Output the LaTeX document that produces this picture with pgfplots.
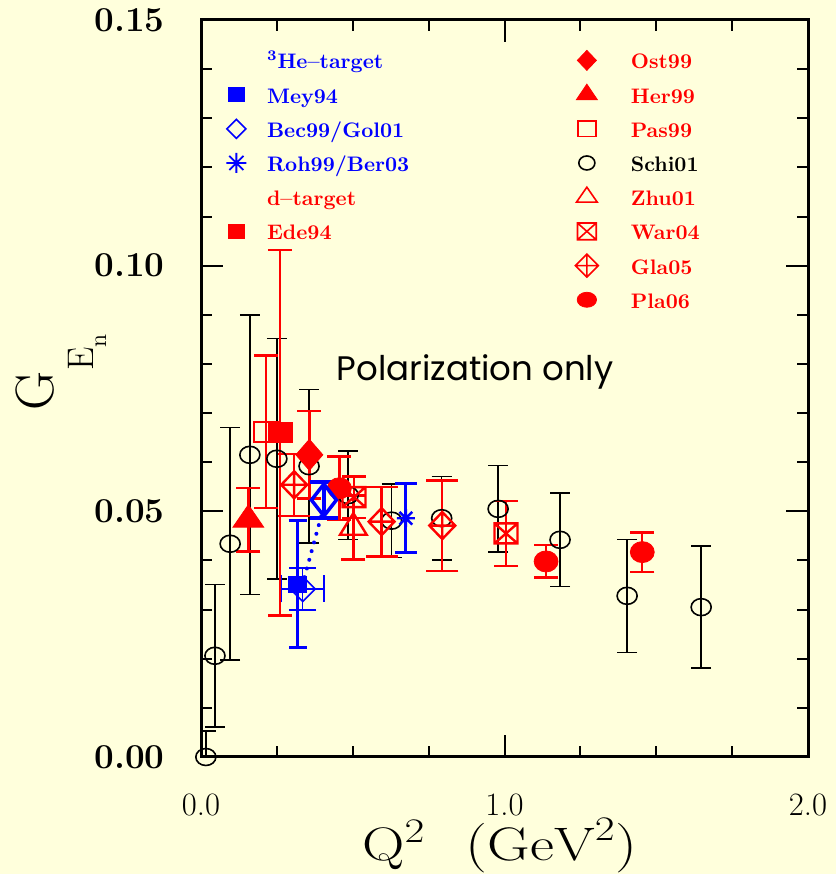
\documentclass[border=0pt]{standalone}
\usepackage{fontspec}
\usepackage{graphicx}
\usepackage{pgfplots}
\usepackage{pgfplotstable}
\pgfplotsset{compat=1.18}

\newfontfamily\notefont{Poppins}

\definecolor{paper}{HTML}{FFFFDC}
\definecolor{gred}{HTML}{FF0000}
\definecolor{gblue}{HTML}{0000FF}

% ---- plot marks -------------------------------------------------------
\pgfdeclareplotmark{rhomb}{%
  \pgfpathmoveto{\pgfqpoint{0pt}{\pgfplotmarksize}}%
  \pgfpathlineto{\pgfqpoint{\pgfplotmarksize}{0pt}}%
  \pgfpathlineto{\pgfqpoint{0pt}{-\pgfplotmarksize}}%
  \pgfpathlineto{\pgfqpoint{-\pgfplotmarksize}{0pt}}%
  \pgfpathclose\pgfusepathqstroke}
\pgfdeclareplotmark{rhomb*}{%
  \pgfpathmoveto{\pgfqpoint{0pt}{\pgfplotmarksize}}%
  \pgfpathlineto{\pgfqpoint{\pgfplotmarksize}{0pt}}%
  \pgfpathlineto{\pgfqpoint{0pt}{-\pgfplotmarksize}}%
  \pgfpathlineto{\pgfqpoint{-\pgfplotmarksize}{0pt}}%
  \pgfpathclose\pgfusepathqfillstroke}
\pgfdeclareplotmark{rhombplus}{%
  \pgfpathmoveto{\pgfqpoint{0pt}{\pgfplotmarksize}}%
  \pgfpathlineto{\pgfqpoint{\pgfplotmarksize}{0pt}}%
  \pgfpathlineto{\pgfqpoint{0pt}{-\pgfplotmarksize}}%
  \pgfpathlineto{\pgfqpoint{-\pgfplotmarksize}{0pt}}%
  \pgfpathclose
  \pgfpathmoveto{\pgfqpoint{0pt}{\pgfplotmarksize}}%
  \pgfpathlineto{\pgfqpoint{0pt}{-\pgfplotmarksize}}%
  \pgfpathmoveto{\pgfqpoint{-\pgfplotmarksize}{0pt}}%
  \pgfpathlineto{\pgfqpoint{\pgfplotmarksize}{0pt}}%
  \pgfusepathqstroke}
\pgfdeclareplotmark{squarex}{%
  \pgfpathrectangle{\pgfqpoint{-\pgfplotmarksize}{-\pgfplotmarksize}}%
                   {\pgfqpoint{2\pgfplotmarksize}{2\pgfplotmarksize}}%
  \pgfpathmoveto{\pgfqpoint{-\pgfplotmarksize}{-\pgfplotmarksize}}%
  \pgfpathlineto{\pgfqpoint{\pgfplotmarksize}{\pgfplotmarksize}}%
  \pgfpathmoveto{\pgfqpoint{-\pgfplotmarksize}{\pgfplotmarksize}}%
  \pgfpathlineto{\pgfqpoint{\pgfplotmarksize}{-\pgfplotmarksize}}%
  \pgfusepathqstroke}
\pgfdeclareplotmark{tri}{%
  \pgfpathmoveto{\pgfqpoint{0pt}{\pgfplotmarksize}}%
  \pgfpathlineto{\pgfqpoint{0.866\pgfplotmarksize}{-0.5\pgfplotmarksize}}%
  \pgfpathlineto{\pgfqpoint{-0.866\pgfplotmarksize}{-0.5\pgfplotmarksize}}%
  \pgfpathclose\pgfusepathqstroke}
\pgfdeclareplotmark{tri*}{%
  \pgfpathmoveto{\pgfqpoint{0pt}{\pgfplotmarksize}}%
  \pgfpathlineto{\pgfqpoint{0.866\pgfplotmarksize}{-0.5\pgfplotmarksize}}%
  \pgfpathlineto{\pgfqpoint{-0.866\pgfplotmarksize}{-0.5\pgfplotmarksize}}%
  \pgfpathclose\pgfusepathqfillstroke}
\pgfdeclareplotmark{star8}{%
  \pgfpathmoveto{\pgfqpoint{0pt}{\pgfplotmarksize}}%
  \pgfpathlineto{\pgfqpoint{0pt}{-\pgfplotmarksize}}%
  \pgfpathmoveto{\pgfqpoint{-\pgfplotmarksize}{0pt}}%
  \pgfpathlineto{\pgfqpoint{\pgfplotmarksize}{0pt}}%
  \pgfpathmoveto{\pgfqpoint{-0.707\pgfplotmarksize}{-0.707\pgfplotmarksize}}%
  \pgfpathlineto{\pgfqpoint{0.707\pgfplotmarksize}{0.707\pgfplotmarksize}}%
  \pgfpathmoveto{\pgfqpoint{-0.707\pgfplotmarksize}{0.707\pgfplotmarksize}}%
  \pgfpathlineto{\pgfqpoint{0.707\pgfplotmarksize}{-0.707\pgfplotmarksize}}%
  \pgfusepathqstroke}

% ---- data: Q2 [GeV^2], G_En, error -------------------------------------
\pgfplotstableread{
q     g      e
0.016 0.0000 0.0053
0.046 0.0206 0.0145
0.096 0.0434 0.0237
0.161 0.0615 0.0284
0.250 0.0607 0.0245
0.356 0.0592 0.0156
0.485 0.0533 0.0090
0.628 0.0481 0.0075
0.793 0.0486 0.0085
0.979 0.0505 0.0088
1.183 0.0442 0.0095
1.404 0.0328 0.0115
1.648 0.0305 0.0124
}\schi
\pgfplotstableread{
q     g      e
0.318 0.0352 0.0130
}\mey
\pgfplotstableread{
q     g      eq    e
0.335 0.0342 0.070 0.0043
}\bec
\pgfplotstableread{
q     g      e
0.405 0.0523 0.0037
}\gol
\pgfplotstableread{
q     g      e
0.675 0.0486 0.0070
}\roh
\pgfplotstableread{
q     g      e
0.260 0.0660 0.0372
}\ede
\pgfplotstableread{
q     g      e
0.357 0.0615 0.0089
}\ost
\pgfplotstableread{
q     g      e
0.156 0.0483 0.0065
}\her
\pgfplotstableread{
q     g      e
0.215 0.0662 0.0155
}\pas
\pgfplotstableread{
q     g      e
0.502 0.0467 0.0065
}\zhu
\pgfplotstableread{
q     g      e
0.504 0.0529 0.0042
1.005 0.0455 0.0066
}\war
\pgfplotstableread{
q     g      e
0.307 0.0554 0.0063
0.595 0.0479 0.0071
0.795 0.0471 0.0092
}\gla
\pgfplotstableread{
q     g      e
0.456 0.0547 0.0065
1.137 0.0398 0.0033
1.454 0.0417 0.0040
}\pla

\pgfplotsset{
  frame/.style={at={(100.5bp,58.5bp)}, anchor=south west,
    width=303.5bp, height=368.5bp, scale only axis,
    xmin=0, xmax=2, ymin=0, ymax=0.15},
  ebar/.style n args={3}{%
    error bars/y dir=both, error bars/y explicit,
    error bars/error bar style={#1, line width=#2},
    error bars/error mark options={#1, rotate=90, line width=#2, mark size=#3}},
  keylist/.style={hide axis,
    legend cell align=left,
    legend image code/.code={%
      \path[draw=none, fill=none] (-6.5bp,-6.5bp) rectangle (6.5bp,6.5bp);
      \draw[##1] plot coordinates {(0bp,0bp)};},
    legend style={draw=none, fill=none, inner sep=0pt, row sep=4.1bp,
      nodes={inner sep=0pt},
      font=\fontsize{10.5bp}{12bp}\selectfont\bfseries, anchor=north west}},
  blankkey/.style={legend image code/.code={%
      \path[draw=none, fill=none] (-6.5bp,-6.5bp) rectangle (6.5bp,6.5bp);}},
}
\newcommand\lstrut{\rule[-3bp]{0pt}{13bp}}

\begin{document}
\begin{tikzpicture}
\path[use as bounding box, fill=paper] (0,0) rectangle (418bp,437bp);

\begin{axis}[frame,
  axis line style={line width=1.5bp},
  tick style={black, line width=1bp},
  tick align=inside,
  major tick length=11bp, minor tick length=5.5bp,
  xtick={0,1,2}, xticklabels={0.0,1.0,2.0}, minor x tick num=3,
  ytick={0,0.05,0.1,0.15}, yticklabels={0.00,0.05,0.10,0.15}, minor y tick num=4,
  xticklabel style={font=\fontsize{16.3bp}{20bp}\selectfont, inner sep=0pt,
    anchor=north, yshift=-18.5bp},
  yticklabel style={font=\fontsize{17.5bp}{20bp}\selectfont\bfseries, inner sep=0pt,
    anchor=east, xshift=-18bp},
  xlabel={\scalebox{1.25}[1]{$\mathrm{Q}^{2}\hspace{16bp}(\mathrm{GeV}^{2})$}},
  xlabel style={font=\fontsize{23.5bp}{28bp}\selectfont, inner sep=0pt,
    at={(axis description cs:0.4926,-0.1398)}, anchor=base},
  ylabel={G\raisebox{-20bp}{\fontsize{18.5bp}{22bp}\selectfont E\raisebox{-6.5bp}{\fontsize{12bp}{14bp}\selectfont n}}},
  ylabel style={font=\fontsize{27bp}{32bp}\selectfont, inner sep=0pt,
    at={(axis description cs:-0.3064,0.522)}, anchor=north},
]
% Schiavilla-Sick analysis (black open circles)
\addplot[black, only marks, mark=o, mark size=4.25bp,
  mark options={xscale=1.18, line width=0.8bp}, ebar={black}{0.8bp}{5bp}]
  table[x=q, y=g, y error=e] {\schi};
% deuterium
\addplot[gred, only marks, mark=square, mark size=5bp,
  mark options={xscale=1.2, line width=1.2bp}, ebar={gred}{1.2bp}{6bp}]
  table[x=q, y=g, y error=e] {\pas};
\addplot[gred, only marks, mark=square*, mark size=5bp,
  mark options={xscale=1.2}, ebar={gred}{1.2bp}{6bp}]
  table[x=q, y=g, y error=e] {\ede};
\addplot[gred, only marks, mark=tri, mark size=7.2bp,
  mark options={xscale=1.07, line width=1.2bp}, ebar={gred}{1.2bp}{6bp}]
  table[x=q, y=g, y error=e] {\zhu};
\addplot[gred, only marks, mark=squarex, mark size=5bp,
  mark options={xscale=1.15, line width=1.2bp}, ebar={gred}{1.2bp}{6bp}]
  table[x=q, y=g, y error=e] {\war};
\addplot[gred, only marks, mark=rhombplus, mark size=6.75bp,
  mark options={xscale=0.96, line width=1.2bp}, ebar={gred}{1.2bp}{8bp}]
  table[x=q, y=g, y error=e] {\gla};
\addplot[gred, only marks, mark=*, mark size=5.25bp,
  mark options={xscale=1.14}, ebar={gred}{1.2bp}{6bp}]
  table[x=q, y=g, y error=e] {\pla};
% helium-3
\addplot[gred, only marks, mark=rhomb*, mark size=7.75bp,
  mark options={xscale=0.87}, ebar={gred}{1.2bp}{6bp}]
  table[x=q, y=g, y error=e] {\ost};
\addplot[gred, only marks, mark=tri*, mark size=7.45bp,
  mark options={xscale=1.19}, ebar={gred}{1.2bp}{6bp}]
  table[x=q, y=g, y error=e] {\her};
\addplot[gblue, line width=2bp, dash pattern=on 0bp off 4.5bp, line cap=round]
  coordinates {(0.341,0.0366) (0.396,0.0490)};
\addplot[gblue, only marks, mark=rhomb, mark size=6.25bp,
  mark options={line width=0.8bp}, ebar={gblue}{0.8bp}{6.75bp},
  error bars/x dir=both, error bars/x explicit]
  table[x=q, y=g, x error=eq, y error=e] {\bec};
\addplot[gblue, only marks, mark=rhomb, mark size=8bp,
  mark options={xscale=0.78, line width=1.75bp}, ebar={gblue}{1.75bp}{7bp}]
  table[x=q, y=g, y error=e] {\gol};
\addplot[gblue, only marks, mark=square*, mark size=4bp,
  mark options={xscale=1.12}, ebar={gblue}{1.5bp}{4.5bp}]
  table[x=q, y=g, y error=e] {\mey};
\addplot[gblue, only marks, mark=star8, mark size=4.5bp,
  mark options={line width=1.2bp}, ebar={gblue}{1.5bp}{5.5bp}]
  table[x=q, y=g, y error=e] {\roh};

\node[anchor=base, font=\notefont\fontsize{17bp}{20bp}\selectfont]
  at (axis cs:0.903,0.0767) {Polarization only};
\end{axis}

% key, first column
\begin{axis}[frame, keylist,
  legend style={at={(axis description cs:0.0362,0.9634)}, column sep=8.85bp}]
\addlegendimage{blankkey}
\addlegendentry{\lstrut\textcolor{gblue}{\textsuperscript{3}He--target}}
\addlegendimage{gblue, only marks, mark=square*, mark size=3.5bp, mark options={xscale=1.19}}
\addlegendentry{\lstrut\textcolor{gblue}{Mey94}}
\addlegendimage{gblue, only marks, mark=rhomb, mark size=4.75bp, mark options={line width=0.8bp}}
\addlegendentry{\lstrut\textcolor{gblue}{Bec99/Gol01}}
\addlegendimage{gblue, only marks, mark=star8, mark size=5bp, mark options={line width=0.9bp}}
\addlegendentry{\lstrut\textcolor{gblue}{Roh99/Ber03}}
\addlegendimage{blankkey}
\addlegendentry{\lstrut\textcolor{gred}{d--target}}
\addlegendimage{gred, only marks, mark=square*, mark size=3.35bp, mark options={xscale=1.25}}
\addlegendentry{\lstrut\textcolor{gred}{Ede94}}
\end{axis}

% key, second column
\begin{axis}[frame, keylist,
  legend style={at={(axis description cs:0.6136,0.9634)}, column sep=15.5bp}]
\addlegendimage{gred, only marks, mark=rhomb*, mark size=5bp, mark options={xscale=0.95}}
\addlegendentry{\lstrut\textcolor{gred}{Ost99}}
\addlegendimage{gred, only marks, mark=tri*, mark size=5.2bp, mark options={xscale=1.17}}
\addlegendentry{\lstrut\textcolor{gred}{Her99}}
\addlegendimage{gred, only marks, mark=square, mark size=3.8bp, mark options={xscale=1.2, line width=0.8bp}}
\addlegendentry{\lstrut\textcolor{gred}{Pas99}}
\addlegendimage{black, only marks, mark=o, mark size=3.5bp, mark options={xscale=1.15, line width=0.8bp}}
\addlegendentry{\lstrut Schi01}
\addlegendimage{gred, only marks, mark=tri, mark size=5bp, mark options={xscale=1.2, line width=0.8bp}}
\addlegendentry{\lstrut\textcolor{gred}{Zhu01}}
\addlegendimage{gred, only marks, mark=squarex, mark size=4.2bp, mark options={xscale=1.12, line width=0.8bp}}
\addlegendentry{\lstrut\textcolor{gred}{War04}}
\addlegendimage{gred, only marks, mark=rhombplus, mark size=5.75bp, mark options={line width=0.8bp}}
\addlegendentry{\lstrut\textcolor{gred}{Gla05}}
\addlegendimage{gred, only marks, mark=*, mark size=3.75bp, mark options={xscale=1.29}}
\addlegendentry{\lstrut\textcolor{gred}{Pla06}}
\end{axis}
\end{tikzpicture}
\end{document}
